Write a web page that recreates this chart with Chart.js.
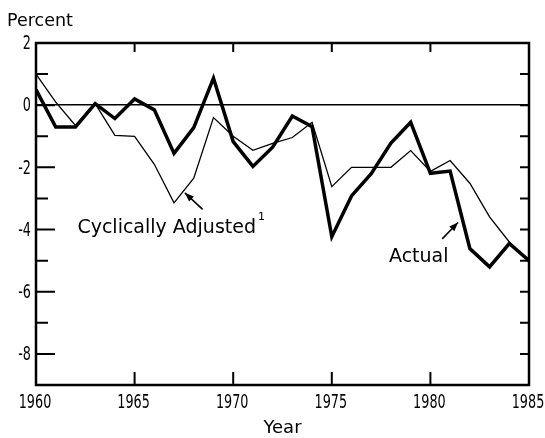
<!DOCTYPE html>
<html lang="en">
<head>
<meta charset="UTF-8" />
<title>Budget balance 1960-1985</title>
<script src="https://cdn.jsdelivr.net/npm/chart.js"></script>
<style>
  html, body { margin: 0; padding: 0; background: #fff; }
  #wrap { width: 545px; height: 438px; }
</style>
</head>
<body>
<div id="wrap"><canvas id="chart" width="545" height="438"></canvas></div>
<script>
const years = [1960, 1961, 1962, 1963, 1964, 1965, 1966, 1967, 1968, 1969, 1970, 1971, 1972,
               1973, 1974, 1975, 1976, 1977, 1978, 1979, 1980, 1981, 1982, 1983, 1984, 1985];
const actual = [0.5, -0.7, -0.7, 0.05, -0.43, 0.2, -0.15, -1.55, -0.72, 0.87, -1.17, -1.97, -1.35,
                -0.35, -0.69, -4.23, -2.92, -2.2, -1.22, -0.55, -2.19, -2.12, -4.61, -5.2, -4.45, -5.0];
const adjusted = [1.0, 0.1, -0.65, 0.05, -0.97, -1.0, -1.9, -3.14, -2.35, -0.4, -1.0, -1.45, -1.23,
                  -1.04, -0.55, -2.62, -2.0, -2.0, -2.0, -1.46, -2.13, -1.78, -2.51, -3.59, -4.4, -5.0];
const yMin = -9, yMax = 2;
const xTickStep = 5;

const labelFont = '"DejaVu Sans", sans-serif';

// annotations, placed in data units
const notes = [
  { text: "Cyclically Adjusted", sup: "1", x: 1962.1, y: -4.1, from: [1968.45, -3.35], to: [1967.55, -2.82] },
  { text: "Actual", x: 1977.9, y: -5.05, from: [1980.6, -4.3], to: [1981.4, -3.77] }
];

function arrow(ctx, x1, y1, x2, y2) {
  ctx.beginPath();
  ctx.moveTo(x1, y1);
  ctx.lineTo(x2, y2);
  ctx.stroke();
  const a = Math.atan2(y2 - y1, x2 - x1);
  const len = 9, w = 3.5;
  ctx.beginPath();
  ctx.moveTo(x2, y2);
  ctx.lineTo(x2 - len * Math.cos(a) + w * Math.sin(a), y2 - len * Math.sin(a) - w * Math.cos(a));
  ctx.lineTo(x2 - len * Math.cos(a) - w * Math.sin(a), y2 - len * Math.sin(a) + w * Math.cos(a));
  ctx.closePath();
  ctx.fill();
}

// condensed tick label: squeeze horizontally around its anchor
function tickText(ctx, text, x, y, align, baseline) {
  ctx.save();
  ctx.translate(x, y);
  ctx.scale(0.64, 1);
  ctx.font = "20px " + labelFont;
  ctx.textAlign = align;
  ctx.textBaseline = baseline;
  ctx.fillText(text, 0, 0);
  ctx.restore();
}

const framePlugin = {
  id: "frame",
  afterDatasetsDraw(chart) {
    const { ctx, chartArea: ca, scales } = chart;
    const xs = scales.x, ys = scales.y;
    ctx.save();
    ctx.strokeStyle = "#000";
    ctx.fillStyle = "#000";

    // frame
    ctx.lineWidth = 2.5;
    ctx.strokeRect(ca.left, ca.top, ca.right - ca.left, ca.bottom - ca.top);

    // inward tick marks and labels
    ctx.lineWidth = 2;
    ys.ticks.forEach(t => {
      const y = ys.getPixelForValue(t.value);
      const major = t.value % 2 === 0;
      if (major && t.value !== yMin) {
        tickText(ctx, t.value < 0 ? "-" + Math.abs(t.value) : String(t.value), ca.left - 5, y + 1, "right", "middle");
      }
      if (t.value === yMin || t.value === yMax) return;
      ctx.beginPath();
      ctx.moveTo(ca.left, y);
      ctx.lineTo(ca.left + (major ? 19 : 12), y);
      ctx.moveTo(ca.right, y);
      ctx.lineTo(ca.right - 9, y);
      ctx.stroke();
    });
    xs.ticks.forEach(t => {
      const x = xs.getPixelForValue(t.value);
      tickText(ctx, String(t.value), x - 1, ca.bottom + 8, "center", "top");
      if (t.value === xs.min || t.value === xs.max) return;
      ctx.beginPath();
      ctx.moveTo(x, ca.bottom);
      ctx.lineTo(x, ca.bottom - 13);
      ctx.moveTo(x, ca.top);
      ctx.lineTo(x, ca.top + 9);
      ctx.stroke();
    });

    // annotations
    ctx.textBaseline = "alphabetic";
    ctx.textAlign = "left";
    ctx.lineWidth = 1.5;
    notes.forEach(n => {
      const tx = xs.getPixelForValue(n.x), ty = ys.getPixelForValue(n.y);
      ctx.font = "19px " + labelFont;
      ctx.fillText(n.text, tx, ty);
      if (n.sup) {
        const w = ctx.measureText(n.text).width;
        ctx.font = "11px " + labelFont;
        ctx.fillText(n.sup, tx + w + 2, ty - 13);
      }
      arrow(ctx, xs.getPixelForValue(n.from[0]), ys.getPixelForValue(n.from[1]),
                 xs.getPixelForValue(n.to[0]), ys.getPixelForValue(n.to[1]));
    });

    // axis titles
    ctx.font = "17.5px " + labelFont;
    ctx.textAlign = "left";
    ctx.fillText("Percent", 7, 26);
    ctx.font = "18px " + labelFont;
    ctx.textAlign = "center";
    ctx.fillText("Year", (ca.left + ca.right) / 2, 433);
    ctx.restore();
  }
};

const ctx = document.getElementById("chart").getContext("2d");
new Chart(ctx, {
  type: "line",
  data: {
    labels: years,
    datasets: [
      {
        label: "Actual",
        data: years.map((y, i) => ({ x: y, y: actual[i] })),
        borderColor: "#000",
        borderWidth: 3.5,
        pointRadius: 0,
        tension: 0,
        fill: false
      },
      {
        label: "Cyclically Adjusted",
        data: years.map((y, i) => ({ x: y, y: adjusted[i] })),
        borderColor: "#000",
        borderWidth: 1.3,
        pointRadius: 0,
        tension: 0,
        fill: false
      }
    ]
  },
  options: {
    responsive: false,
    animation: false,
    layout: { padding: { left: 0, right: 16, top: 43, bottom: 0 } },
    plugins: { legend: { display: false }, tooltip: { enabled: false } },
    scales: {
      x: {
        type: "linear",
        min: years[0],
        max: years[years.length - 1],
        afterFit: s => { s.height = 53; s.paddingLeft = 0; s.paddingRight = 0; },
        grid: { display: false, drawTicks: false },
        border: { display: false },
        ticks: { stepSize: xTickStep, display: false }
      },
      y: {
        min: yMin,
        max: yMax,
        afterFit: s => { s.width = 36; s.paddingTop = 0; s.paddingBottom = 0; },
        border: { display: false },
        grid: {
          drawTicks: false,
          lineWidth: 1.5,
          color: c => (c.tick && c.tick.value === 0 ? "#000" : "rgba(0,0,0,0)")
        },
        ticks: { stepSize: 1, display: false }
      }
    }
  },
  plugins: [framePlugin]
});
</script>
</body>
</html>
